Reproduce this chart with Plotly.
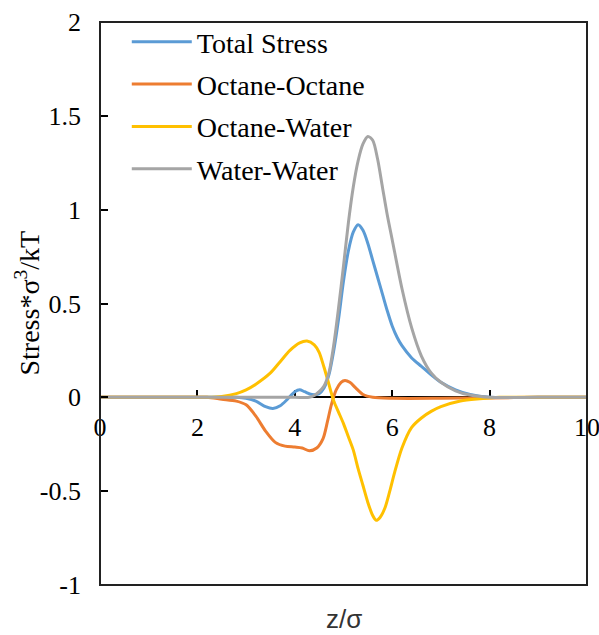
import plotly.graph_objects as go

# ---- data ----
x_total = [0, 1, 2, 2.8, 3.0, 3.2, 3.4, 3.55, 3.7, 3.85, 4.0, 4.1, 4.2, 4.35, 4.5, 4.6, 4.7, 4.8, 4.9, 5.0,
           5.1, 5.2, 5.3, 5.4, 5.5, 5.6, 5.7, 5.8, 5.9, 6.0, 6.1, 6.2, 6.4, 6.6, 6.8, 7.0, 7.3, 7.6, 8.0, 9.0, 10]
y_total = [0, 0, 0, 0, -0.005, -0.02, -0.05, -0.06, -0.045, -0.01, 0.03, 0.04, 0.03, 0.015, 0.02, 0.05, 0.12, 0.25, 0.42, 0.62,
           0.78, 0.88, 0.92, 0.89, 0.82, 0.73, 0.64, 0.55, 0.46, 0.38, 0.32, 0.275, 0.21, 0.165, 0.12, 0.08, 0.04, 0.015, 0, 0, 0]

x_oo = [0, 1, 2, 2.2, 2.5, 2.8, 3.0, 3.2, 3.4, 3.6, 3.8, 4.0, 4.15, 4.3, 4.45, 4.58, 4.67, 4.75, 4.85, 4.95,
        5.03, 5.13, 5.25, 5.4, 5.6, 6.0, 7.0, 8.0, 9.0, 10]
y_oo = [0, 0, 0, 0, -0.01, -0.02, -0.04, -0.1, -0.18, -0.24, -0.26, -0.265, -0.27, -0.285, -0.27, -0.22, -0.13, -0.04, 0.04, 0.08,
        0.09, 0.08, 0.05, 0.015, 0.0, -0.005, -0.005, -0.003, 0, 0]

x_ow = [0, 1, 2, 2.2, 2.5, 2.8, 3.0, 3.2, 3.5, 3.7, 3.9, 4.1, 4.25, 4.4, 4.5, 4.6, 4.7, 4.8, 4.9, 5.0,
        5.1, 5.2, 5.3, 5.4, 5.5, 5.6, 5.67, 5.75, 5.85, 5.95, 6.05, 6.2, 6.4, 6.6, 6.8, 7.0, 7.4, 7.8, 8.2, 9.0, 10]
y_ow = [0, 0, 0, 0, 0.005, 0.02, 0.04, 0.07, 0.13, 0.19, 0.25, 0.29, 0.30, 0.28, 0.24, 0.16, 0.07, -0.02, -0.08, -0.14,
        -0.21, -0.28, -0.38, -0.47, -0.56, -0.63, -0.655, -0.64, -0.59, -0.5, -0.4, -0.27, -0.16, -0.11, -0.075, -0.05, -0.02, -0.008, 0, 0, 0]

x_ww = [0, 1, 2, 3, 4.0, 4.3, 4.4, 4.5, 4.6, 4.7, 4.8, 4.9, 5.0, 5.1, 5.2, 5.3, 5.4, 5.5, 5.6, 5.7,
        5.8, 5.9, 6.0, 6.2, 6.4, 6.6, 6.8, 7.0, 7.3, 7.6, 8.0, 9.0, 10]
y_ww = [0, 0, 0, 0, 0, 0, 0.01, 0.03, 0.06, 0.13, 0.28, 0.48, 0.70, 0.93, 1.12, 1.26, 1.35, 1.39, 1.37, 1.27,
        1.12, 0.97, 0.84, 0.58, 0.37, 0.22, 0.13, 0.08, 0.035, 0.012, 0, 0, 0]

names = ["Total Stress", "Octane-Octane", "Octane-Water", "Water-Water"]
colors = ["#5B9BD5", "#ED7D31", "#FFC000", "#A5A5A5"]
series = [(x_total, y_total), (x_oo, y_oo), (x_ow, y_ow), (x_ww, y_ww)]

x_ticks = [0, 2, 4, 6, 8, 10]
y_ticks = [-1, -0.5, 0, 0.5, 1, 1.5, 2]

fig = go.Figure()
for (xs, ys), name, c in zip(series, names, colors):
    fig.add_trace(go.Scatter(x=xs, y=ys, name=name, mode="lines", legendgroup=name,
                             line=dict(color=c, width=3, shape="spline", smoothing=0.8)))

serif = "Liberation Serif"
fig.update_layout(
    width=599, height=635,
    margin=dict(l=100, r=12, t=22, b=50),
    paper_bgcolor="white", plot_bgcolor="white",
    showlegend=True,
    legend=dict(x=0.055, y=1.009, xanchor="left", yanchor="top",
                font=dict(family=serif, size=28, color="#000"),
                bgcolor="rgba(0,0,0,0)", itemwidth=60, tracegroupgap=3),
    xaxis=dict(range=[0, 10], tickvals=x_ticks, ticktext=[str(v) for v in x_ticks],
               anchor="free", position=1/3, showgrid=False, zeroline=False,
               showline=True, linecolor="#000", linewidth=1.5, layer="below traces",
               ticks="inside", ticklen=7, tickcolor="#000", tickwidth=1.5,
               ticklabeloverflow="allow", automargin=False,
               tickfont=dict(family=serif, size=26, color="#000"), ticklabelstandoff=7),
    yaxis=dict(range=[-1, 2], tickvals=y_ticks, ticktext=[f"{v:g}" for v in y_ticks],
               showgrid=False, zeroline=False, showline=False, automargin=False,
               ticks="inside", ticklen=8, tickcolor="#000", tickwidth=1.5,
               tickfont=dict(family=serif, size=26, color="#000"), ticklabelstandoff=18),
    shapes=[dict(type="rect", xref="paper", yref="paper", x0=0, x1=1, y0=0, y1=1,
                 line=dict(color="#222", width=2), layer="above")],
    annotations=[
        dict(text="Stress*σ<sup>3</sup>/kT", xref="paper", yref="paper",
             x=(28 - 100) / 487, y=0.5, xanchor="center", yanchor="middle",
             textangle=-90, showarrow=False,
             font=dict(family=serif, size=28, color="#000")),
        dict(text="z/σ", xref="paper", yref="paper", x=0.5, y=-(619 - 585) / 563,
             xanchor="center", yanchor="middle", showarrow=False,
             font=dict(family="Liberation Sans", size=26, color="#333")),
    ],
)

fig.write_html("out.html")
